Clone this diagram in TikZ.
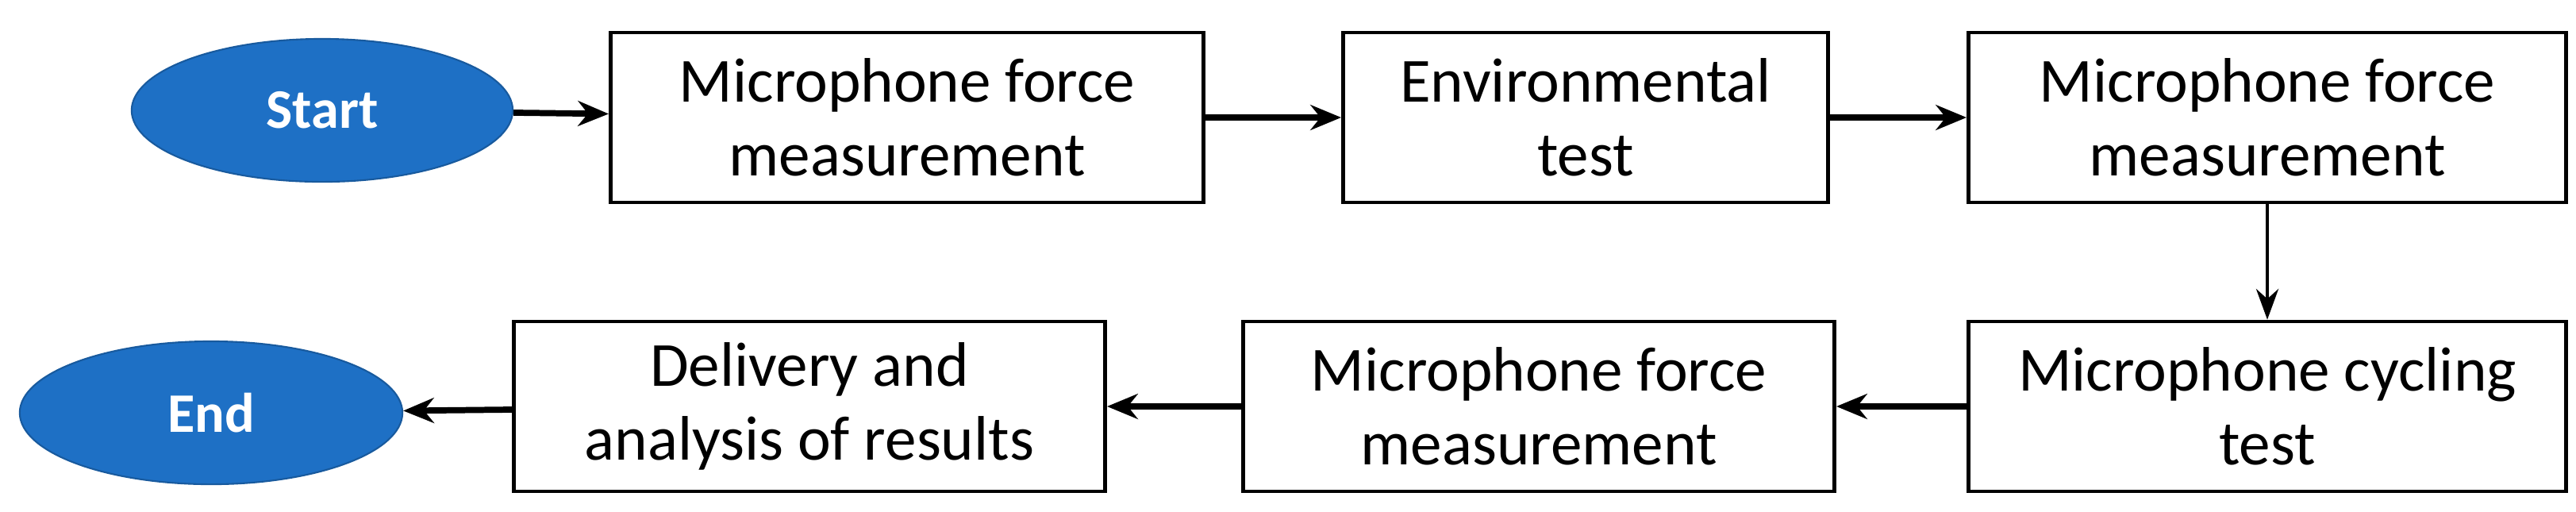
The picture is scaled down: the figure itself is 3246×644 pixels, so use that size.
\documentclass[tikz,border=0pt]{standalone}
\usepackage{fontspec}
\setmainfont{Carlito}
\usetikzlibrary{arrows.meta,shapes.geometric}
\definecolor{eblue}{RGB}{30,112,197}
\begin{document}
\begin{tikzpicture}[x=0.01cm,y=-0.01cm,
  box/.style={draw,line width=1.3pt,minimum width=#1,minimum height=2.14cm,align=center,inner sep=0pt,font=\fontsize{22.5}{26.5}\selectfont},
  oval/.style={ellipse,fill=eblue,draw=eblue!80!black,line width=0.6pt,minimum width=#1,minimum height=1.8cm,inner sep=0pt,text=white,font=\fontsize{20}{22}\selectfont\bfseries},
  arr/.style={line width=2.2pt,-{Stealth[length=11pt,width=9pt]}},
  arrthin/.style={line width=1.2pt,-{Stealth[length=11pt,width=8pt]}}]
\useasboundingbox (0,0) rectangle (3246,644);
\node[oval=4.8cm] (start) at (406,139) {Start};
\node[box=7.47cm] (b1) at (1143,148) {Microphone force\\measurement};
\node[box=6.11cm] (b2) at (1998,148) {Environmental\\test};
\node[box=7.53cm] (b3) at (2857,148) {Microphone force\\measurement};
\node[box=7.53cm] (b4) at (2857,512) {Microphone cycling\\test};
\node[box=7.45cm] (b5) at (1939,512) {Microphone force\\measurement};
\node[box=7.45cm] (b6) at (1020,512) {Delivery and\\analysis of results};
\node[oval=4.82cm] (end) at (266,520) {End};
\draw[arr] (start) -- (b1);
\draw[arr] (b1) -- (b2);
\draw[arr] (b2) -- (b3);
\draw[arrthin] (b3) -- (b4);
\draw[arr] (b4) -- (b5);
\draw[arr] (b5) -- (b6);
\draw[arr] (b6) -- (end);
\end{tikzpicture}
\end{document}
